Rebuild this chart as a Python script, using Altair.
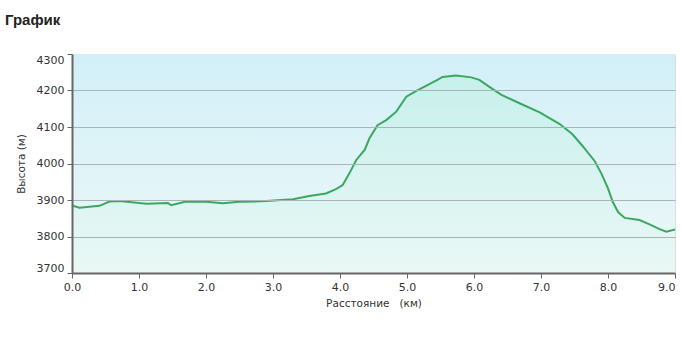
import altair as alt
import pandas as pd

title_text = "График"
x_title = "Расстояние\u00a0\u00a0\u00a0(км)"
y_title = "Высота (м)"

distance_km = [0, 0.11, 0.41, 0.56, 0.71, 1.11, 1.43, 1.48, 1.70, 2.0, 2.25, 2.5, 2.9,
               3.3, 3.54, 3.79, 3.94, 4.04, 4.14, 4.24, 4.37, 4.44, 4.56, 4.69, 4.84,
               4.99, 5.14, 5.34, 5.46, 5.53, 5.73, 5.96, 6.08, 6.23, 6.41, 6.68, 6.98,
               7.28, 7.47, 7.62, 7.80, 7.90, 8.0, 8.07, 8.15, 8.25, 8.47, 8.62, 8.77,
               8.87, 9.0]
elevation_m = [3885, 3879, 3884, 3896, 3897, 3890, 3892, 3886, 3896, 3895, 3891, 3895, 3897,
               3902, 3911, 3918, 3930, 3941, 3973, 4009, 4038, 4069, 4105, 4119, 4142,
               4183, 4199, 4218, 4230, 4237, 4241, 4236, 4229, 4210, 4188, 4165, 4140,
               4108, 4080, 4048, 4007, 3973, 3932, 3895, 3867, 3851, 3845, 3833, 3820,
               3813, 3819]

x_ticks = [0, 1, 2, 3, 4, 5, 6, 7, 8, 9]
y_ticks = [3700, 3800, 3900, 4000, 4100, 4200, 4300]
x_domain = [0, 9]
y_domain = [3700, 4300]

df = pd.DataFrame({"d": distance_km, "h": elevation_m, "base": [y_domain[0]] * len(distance_km)})
bg = pd.DataFrame({"d": [x_domain[0]], "d2": [x_domain[1]], "h": [y_domain[0]], "h2": [y_domain[1]]})

xscale = alt.Scale(domain=x_domain, nice=False, zero=False)
yscale = alt.Scale(domain=y_domain, nice=False, zero=False)

LABEL_FONT = "DejaVu Sans"

xaxis = alt.Axis(values=x_ticks, format=".1f", title=x_title, grid=False,
                 labelFont=LABEL_FONT, labelFontSize=11, labelColor="#333333",
                 labelFlush=False, labelOverlap=False,
                 labelAlign={"condition": {"test": "datum.value == 9", "value": "right"}, "value": "center"},
                 titleFont=LABEL_FONT, titleFontSize=10.5, titleColor="#333333",
                 titleFontWeight="normal", titlePadding=6,
                 domainColor="#666666", domainWidth=2, tickColor="#666666",
                 tickSize=5, labelPadding=3, zindex=1)
yaxis = alt.Axis(values=y_ticks, format="d", title=y_title, grid=True,
                 gridColor="#a8b4b8", gridWidth=1,
                 gridOpacity={"condition": {"test": "datum.value == 4300 || datum.value == 3700", "value": 0}, "value": 1},
                 labelFont=LABEL_FONT, labelFontSize=11, labelColor="#333333",
                 labelFlush=True, labelOverlap=False,
                 titleFont=LABEL_FONT, titleFontSize=10.5, titleColor="#333333",
                 titleFontWeight="normal", titlePadding=10,
                 domainColor="#666666", domainWidth=2, tickColor="#666666",
                 tickSize=5, labelPadding=3, zindex=1)

X = alt.X("d:Q", scale=xscale, axis=xaxis)
Y = alt.Y("h:Q", scale=yscale, axis=yaxis)

background = alt.Chart(bg).mark_rect(
    color=alt.LinearGradient(
        gradient="linear", x1=0, y1=0, x2=0, y2=1,
        stops=[alt.GradientStop(color="#d2eff8", offset=0),
               alt.GradientStop(color="#edf8f7", offset=1)])
).encode(x=X, x2="d2:Q", y=Y, y2="h2:Q")

area = alt.Chart(df).mark_area(
    color=alt.LinearGradient(
        gradient="linear", x1=0, y1=0, x2=0, y2=1,
        stops=[alt.GradientStop(color="rgba(150,240,190,0.22)", offset=0),
               alt.GradientStop(color="rgba(180,245,210,0.06)", offset=1)])
).encode(x=X, y=Y, y2="base:Q")

line = alt.Chart(df).mark_line(color="#3aa860", strokeWidth=2).encode(x=X, y=Y)

chart = alt.layer(background, area, line).properties(
    width=603, height=219,
    title=alt.Title(title_text, anchor="start", frame="group", dx=-67, offset=26,
                    font="Liberation Sans", fontSize=15, fontWeight="bold", color="#222222"),
    autosize=alt.AutoSizeParams(type="none"),
    padding={"left": 72, "top": 54, "right": 6, "bottom": 67},
).configure_view(stroke=None).configure(background="white")

chart.save("out.html", embed_options={"renderer": "svg", "actions": False})
